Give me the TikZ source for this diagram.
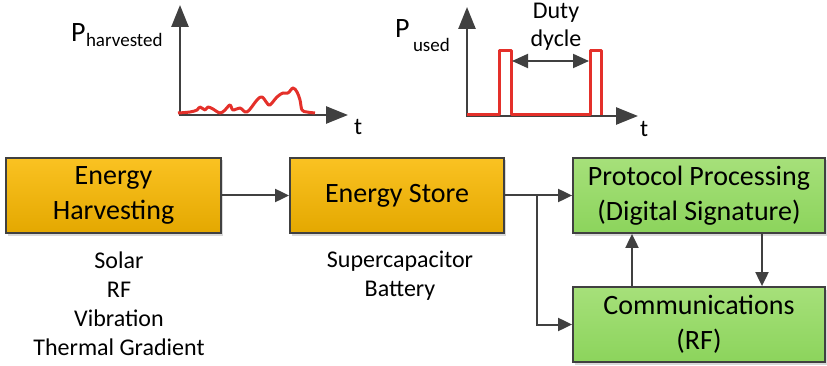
\documentclass[tikz,border=0pt]{standalone}
\usepackage{fontspec}
\setmainfont{Carlito}
\usetikzlibrary{arrows.meta,shadows}

\begin{document}
\begin{tikzpicture}[x=1pt,y=-1pt,line width=2pt,
  blockbox/.style={draw=figedge,line width=1.8pt,inner sep=0pt,minimum height=75pt,
    align=center,font=\fbig,drop shadow={shadow xshift=2pt,shadow yshift=-2.5pt,fill=black,opacity=0.15}},
  orangebox/.style={blockbox,top color=figortop,bottom color=figorbot},
  greenbox/.style={blockbox,top color=figgrtop,bottom color=figgrbot},
  conn/.style={draw=figedge,line width=2pt,-{Triangle[length=14pt,width=13pt]}},
  axis/.style={draw=figedge,line width=2.6pt,-{Triangle[length=22pt,width=17pt]}},
  trace/.style={draw=figred,line width=3pt,line join=round}]
\definecolor{figedge}{RGB}{64,64,64}
\definecolor{figortop}{RGB}{250,194,34}
\definecolor{figorbot}{RGB}{228,168,0}
\definecolor{figgrtop}{RGB}{166,224,122}
\definecolor{figgrbot}{RGB}{140,212,92}
\definecolor{figred}{RGB}{228,48,42}
\providecommand{\fbig}{\fontsize{28}{34.5}\selectfont}
\providecommand{\fmid}{\fontsize{24}{29}\selectfont}
\providecommand{\fsub}{\fontsize{19}{22}\selectfont}
\useasboundingbox (0,0) rectangle (827,366);
% blocks
\node[orangebox,minimum width=215pt] (harv) at (113.5,195.5) {Energy\\Harvesting};
\node[orangebox,minimum width=214pt] (store) at (397,195.5) {Energy Store};
\node[greenbox,minimum width=252pt] (proto) at (699,195.5) {Protocol Processing\\(Digital Signature)};
\node[greenbox,minimum width=252pt] (comm) at (699,324.5) {Communications\\(RF)};
% sources
\node[align=center,font=\fmid] (srclist) at (119,304) {Solar\\RF\\Vibration\\Thermal Gradient};
\node[align=center,font=\fmid] (storelist) at (400,275.5) {Supercapacitor\\Battery};
% connectors
\coordinate (split) at (537,195.5);
\draw[conn] (harv) -- (store);
\draw[conn] (store) -- (proto);
\draw[conn] (split) |- (comm.west);
\draw[conn] ([xshift=-67pt]comm.north) -- ([xshift=-67pt]proto.south);
\draw[conn] ([xshift=63pt]proto.south) -- ([xshift=63pt]comm.north);
% harvested power
\draw[axis] (180,116) -- (180,5);
\draw[axis] (179,115) -- (348,115);
\draw[trace] plot[smooth,tension=0.6] coordinates {(178,113) (190,112) (197,110) (200,107) (205,110)
  (208,107) (213,109) (220,113) (225,110) (230,105) (233,110) (240,108) (247,112) (257,100)
  (262,97) (267,103) (270,105) (277,97) (283,93) (288,93) (293,88) (297,92) (300,100)
  (302,110) (307,112) (315,113)};
\node[anchor=base west,inner sep=0pt,font=\fbig] (pharv) at (70,42) {P};
\node[anchor=base west,inner sep=0pt,font=\fsub] (pharvsub) at (85,47) {harvested};
\node[anchor=base west,inner sep=0pt,font=\fmid] (tharv) at (353,135) {t};
% used power
\draw[axis] (467,117) -- (467,7);
\draw[axis] (466,116) -- (638,116);
\draw[trace] (467,115) -- (499,115) -- (499,51) -- (511,51) -- (511,115) -- (590,115)
  -- (590,51) -- (601,51) -- (601,115);
\draw[draw=figedge,line width=2pt,{Triangle[length=16pt,width=14pt]}-{Triangle[length=16pt,width=14pt]}]
  (512,61) -- (589,61);
\node[anchor=base west,inner sep=0pt,font=\fbig] (pused) at (394,38) {P};
\node[anchor=base west,inner sep=0pt,font=\fsub] (pusedsub) at (412,52) {used};
\node[anchor=base west,inner sep=0pt,font=\fmid] (tused) at (639,137) {t};
\node[anchor=base,inner sep=0pt,font=\fmid] (duty) at (556,19) {Duty};
\node[anchor=base,inner sep=0pt,font=\fmid] (dycle) at (556,47) {dycle};
\end{tikzpicture}
\end{document}
